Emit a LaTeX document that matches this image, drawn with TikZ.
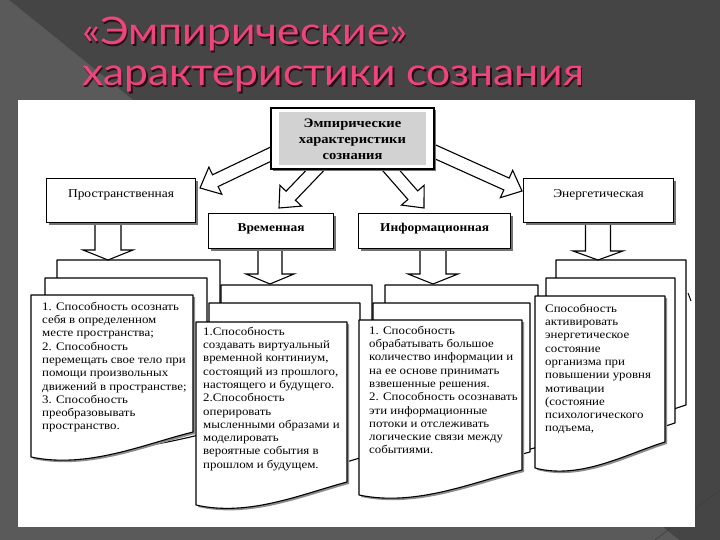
\documentclass[tikz,border=0pt]{standalone}
\usepackage{fontspec}
\setmainfont{Liberation Serif}
\newfontfamily\titlefont[FakeStretch=1.12]{Lato}
\newfontfamily\docfont[FakeStretch=1.12]{Liberation Serif}
\usetikzlibrary{calc,shadows}
\definecolor{bgdark}{HTML}{454545}
\definecolor{bglight}{HTML}{5A5A5A}
\definecolor{titlepink}{HTML}{EE457C}
\definecolor{titleshadow}{HTML}{2A0A14}
\definecolor{boxgray}{HTML}{D2D2D2}
\newcommand\docsheet[6][]{%
  \draw[sheet,#1] (#2,#3) -- (#4,#3) -- (#4,#6)
    .. controls ({#4-0.3*(#4-#2)},{#6+12}) and ({#2+0.35*(#4-#2)},{#5+12}) .. (#2,#5) -- cycle;}
\newcommand\frontsheet[5]{%
  \docsheet[sheetshadow,xshift=2pt,yshift=-2pt]{#1}{#2}{#3}{#4}{#5}%
  \docsheet{#1}{#2}{#3}{#4}{#5}}
\newcommand\blockarrow[5]{% start, tip, half shaft, half head, head length
  \coordinate (bah) at ($(#2)!#5!(#1)$);
  \draw[barrow] ($(#1)!#3!90:(#2)$) -- ($(bah)!#3!90:(#2)$) -- ($(bah)!#4!90:(#2)$) -- (#2)
    -- ($(bah)!#4!-90:(#2)$) -- ($(bah)!#3!-90:(#2)$) -- ($(#1)!#3!-90:(#2)$) -- cycle;}
\begin{document}
\begin{tikzpicture}[x=1pt,y=-1pt,
  lbl/.style={draw=black, line width=1.1pt, fill=white, anchor=north west, inner xsep=0pt,
    inner ysep=4pt, font=\docfont\fontsize{12}{14}\selectfont,
    drop shadow={shadow xshift=2pt, shadow yshift=-2pt, fill=black!55, opacity=1}},
  sheet/.style={draw=black, line width=1.1pt, fill=white, line join=round},
  sheetshadow/.style={fill=black!45, draw=none},
  stext/.style={anchor=north west, inner sep=0pt, align=left,
    font=\docfont\fontsize{11.5}{13.3}\selectfont},
  barrow/.style={draw=black, line width=1.1pt, fill=white, line join=miter},
  ttl/.style={anchor=base west, inner sep=0pt, font=\titlefont\fontsize{38}{44}\selectfont},
]
\useasboundingbox (0,0) rectangle (720,540);
% background
\fill[bgdark] (0,0) rectangle (720,540);
\fill[bglight] (0,0) -- (9,0) -- (679,540) -- (0,540) -- cycle;
\draw[black!30!bglight, line width=0.6pt] (655,540) -- (720,490);
% title
\node[ttl, text=titleshadow] at (83.5,46.5) {«Эмпирические»};
\node[ttl, text=titlepink] (t1) at (82,45) {«Эмпирические»};
\node[ttl, text=titleshadow] at (83.5,87.5) {характеристики сознания};
\node[ttl, text=titlepink] (t2) at (82,86) {характеристики сознания};
% panel
\fill[white] (18,100) rectangle (695,527);

% stack 1
\docsheet{57}{260}{220}{430}{425}
\docsheet{45}{278}{207}{445}{433}
\frontsheet{31}{295}{193}{457}{432}
% stack 2
\docsheet{221}{285}{372}{480}{452}
\docsheet{209}{303}{360}{490}{458}
\frontsheet{196}{322}{347}{505}{482}
% stack 3
\docsheet{385}{285}{538}{470}{447}
\docsheet{373}{303}{530}{480}{452}
\frontsheet{359}{320}{522}{495}{470}
% stack 4
\docsheet{556}{260}{686}{432}{405}
\docsheet{546}{278}{675}{450}{423}
\frontsheet{535}{296}{665}{468}{442}
\draw[black, line width=1pt] (688,293) -- (691,301);

% down arrows
\coordinate (d1s) at (108,218); \coordinate (d1t) at (108,260);
\coordinate (d2s) at (270,244); \coordinate (d2t) at (270,284);
\coordinate (d3s) at (433,244); \coordinate (d3t) at (433,284);
\coordinate (d4s) at (598,218); \coordinate (d4t) at (598,260);
\blockarrow{d1s}{d1t}{13pt}{25pt}{10pt}
\blockarrow{d2s}{d2t}{12pt}{24pt}{10pt}
\blockarrow{d3s}{d3t}{13pt}{25pt}{10pt}
\blockarrow{d4s}{d4t}{12.5pt}{25pt}{9pt}

% category boxes
\node[lbl, minimum width=149pt, text height=15pt, text depth=21pt] (prost) at (46,178) {Пространственная};
\node[lbl, minimum width=125pt, text height=14pt, text depth=13pt, font=\docfont\bfseries\fontsize{12}{14}\selectfont] (vrem) at (208,213) {Временная};
\node[lbl, minimum width=152pt, text height=14pt, text depth=13pt, font=\docfont\bfseries\fontsize{12}{14}\selectfont] (inf) at (358,213) {Информационная};
\node[lbl, minimum width=150pt, text height=15pt, text depth=21pt] (energ) at (523,178) {Энергетическая};

% diagonal arrows
\coordinate (a1s) at (290,145); \coordinate (a1t) at (200,188);
\coordinate (a2s) at (325,160); \coordinate (a2t) at (279,208);
\coordinate (a3s) at (382,160); \coordinate (a3t) at (424,208);
\coordinate (a4s) at (420,145); \coordinate (a4t) at (522,191);
\blockarrow{a1s}{a1t}{6.5pt}{15pt}{17pt}
\blockarrow{a2s}{a2t}{6.5pt}{15pt}{17pt}
\blockarrow{a3s}{a3t}{6.5pt}{15pt}{17pt}
\blockarrow{a4s}{a4t}{6.5pt}{15pt}{17pt}

% top box
\node[draw=black, line width=1.8pt, fill=white, minimum width=163pt, minimum height=61pt,
  drop shadow={shadow xshift=2pt, shadow yshift=-2pt, fill=black!55, opacity=1}] (top) at (352.5,138.5) {};
\fill[boxgray] (279,112) rectangle (426,165);
\node[align=center, inner sep=0pt, font=\docfont\bfseries\fontsize{13}{16}\selectfont] (toptext) at (352.5,139)
  {Эмпирические\\характеристики\\сознания};

% sheet texts
\node[stext] (txt1) at (42,300) {\rule{0pt}{10pt}1. Способность осознать\\себя в определенном\\месте пространства;\\2. Способность\\перемещать свое тело при\\помощи произвольных\\движений в пространстве;\\3. Способность\\преобразовывать\\пространство.};
\node[stext] (txt2) at (203,325) {\rule{0pt}{10pt}1.Способность\\создавать виртуальный\\временной континиум,\\состоящий из прошлого,\\настоящего и будущего.\\2.Способность\\оперировать\\мысленными образами и\\моделировать\\вероятные события в\\прошлом и будущем.};
\node[stext] (txt3) at (369,324) {\rule{0pt}{10pt}1. Способность\\обрабатывать большое\\количество информации и\\на ее основе принимать\\взвешенные решения.\\2. Способность осознавать\\эти информационные\\потоки и отслеживать\\логические связи между\\событиями.};
\node[stext] (txt4) at (545,302) {\rule{0pt}{10pt}Способность\\активировать\\энергетическое\\состояние\\организма при\\повышении уровня\\мотивации\\(состояние\\психологического\\подъема,};
\end{tikzpicture}
\end{document}
